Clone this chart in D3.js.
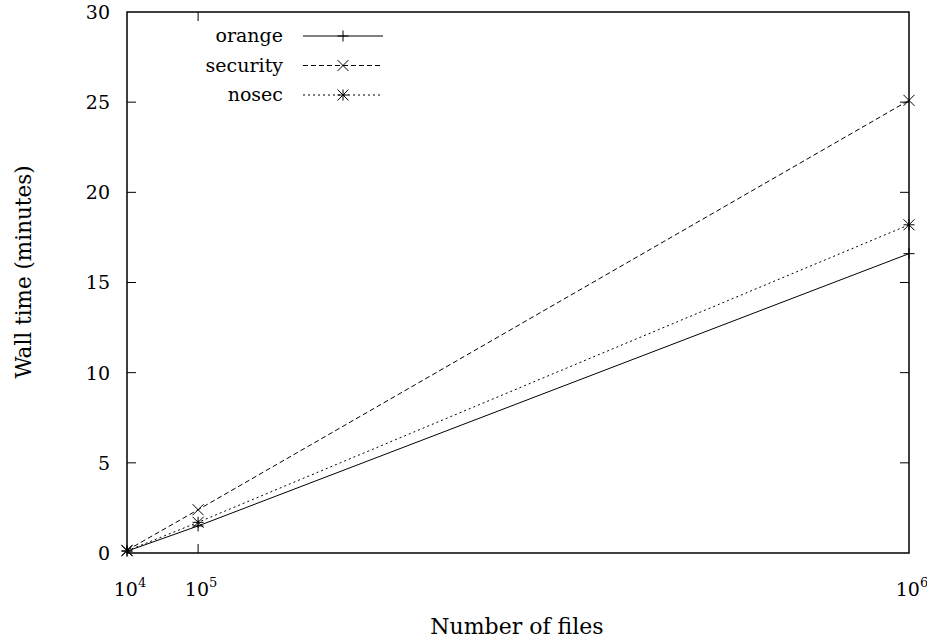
<!DOCTYPE html>
<html>
<head>
<meta charset="utf-8">
<script src="https://cdn.jsdelivr.net/npm/d3@7"></script>
<style>
body { margin: 0; background: #fff; }
</style>
</head>
<body>
<div id="chart"></div>
<script>
// data
var files = [10000, 100000, 1000000];
var xTickExp = [4, 5, 6];
var yTicks = [0, 5, 10, 15, 20, 25, 30];
var orange = [0.1, 1.5, 16.6];
var security = [0.15, 2.4, 25.1];
var nosec = [0.12, 1.7, 18.2];
var seriesNames = ["orange", "security", "nosec"];

var font = "DejaVu Serif";

function drawChart()
{
	var dim = {
		width: 927,
		height: 641,
		margin: { top: 12, bottom: 88, left: 127, right: 18 }
	};
	dim.ctrWidth = dim.width - dim.margin.left - dim.margin.right;
	dim.ctrHeight = dim.height - dim.margin.top - dim.margin.bottom;

	var series = [
		{ name: seriesNames[0], vals: orange, dash: null, mark: "plus" },
		{ name: seriesNames[1], vals: security, dash: "5,3", mark: "cross" },
		{ name: seriesNames[2], vals: nosec, dash: "2,3", mark: "star" }
	];

	var svg = d3.select("#chart")
		.append("svg")
		.attr("width", dim.width)
		.attr("height", dim.height)
		.attr("font-family", font);

	var ctr = svg.append("g")
		.attr("transform", `translate(${dim.margin.left},${dim.margin.top})`);

	var xScale = d3.scaleLinear()
		.domain([files[0], files[2]])
		.range([0, dim.ctrWidth]);
	var yScale = d3.scaleLinear()
		.domain([0, 30])
		.range([dim.ctrHeight, 0]);

	var tick = 9;

	// ticks, mirrored on all sides
	var ax = ctr.append("g").attr("stroke", "#000").attr("stroke-width", 1);
	yTicks.slice(1, -1).forEach(function(v) {
		var y = yScale(v);
		ax.append("line").attr("x1", 0).attr("x2", tick).attr("y1", y).attr("y2", y);
		ax.append("line").attr("x1", dim.ctrWidth).attr("x2", dim.ctrWidth - tick).attr("y1", y).attr("y2", y);
	});
	files.slice(1, -1).forEach(function(v) {
		var x = xScale(v);
		ax.append("line").attr("x1", x).attr("x2", x).attr("y1", dim.ctrHeight).attr("y2", dim.ctrHeight - tick);
		ax.append("line").attr("x1", x).attr("x2", x).attr("y1", 0).attr("y2", tick);
	});

	ctr.append("rect")
		.attr("width", dim.ctrWidth)
		.attr("height", dim.ctrHeight)
		.attr("fill", "none")
		.attr("stroke", "#000")
		.attr("stroke-width", 1.5);

	// tick labels
	ctr.append("g").selectAll("text")
		.data(yTicks)
		.join("text")
		.attr("x", -17)
		.attr("y", d => yScale(d))
		.attr("dy", "0.36em")
		.attr("text-anchor", "end")
		.style("font-size", "19px")
		.text(d => d);

	var xl = ctr.append("g").selectAll("text")
		.data(files)
		.join("text")
		.attr("x", d => xScale(d) + 3)
		.attr("y", dim.ctrHeight + 43)
		.attr("text-anchor", "middle")
		.style("font-size", "19px");
	xl.append("tspan").text("10");
	xl.append("tspan").attr("dy", -9).style("font-size", "13px").text((d, i) => xTickExp[i]);

	// axis titles
	svg.append("text")
		.attr("x", 517)
		.attr("y", 634)
		.attr("text-anchor", "middle")
		.style("font-size", "22px")
		.text("Number of files");
	svg.append("text")
		.attr("transform", "translate(31,272) rotate(-90)")
		.attr("text-anchor", "middle")
		.style("font-size", "21.5px")
		.text("Wall time (minutes)");

	var line = d3.line()
		.x((d, i) => xScale(files[i]))
		.y(d => yScale(d));

	function marker(g, type, x, y) {
		var s = 5.5;
		var p = [];
		if (type == "plus" || type == "star") p.push([[x - s, y], [x + s, y]], [[x, y - s], [x, y + s]]);
		if (type == "cross" || type == "star") p.push([[x - s, y - s], [x + s, y + s]], [[x - s, y + s], [x + s, y - s]]);
		p.forEach(function(seg) {
			g.append("line")
				.attr("x1", seg[0][0]).attr("y1", seg[0][1])
				.attr("x2", seg[1][0]).attr("y2", seg[1][1])
				.attr("stroke", "#000").attr("stroke-width", 1);
		});
	}

	series.forEach(function(s) {
		ctr.append("path")
			.datum(s.vals)
			.attr("d", line)
			.attr("fill", "none")
			.attr("stroke", "#000")
			.attr("stroke-width", 1)
			.attr("stroke-dasharray", s.dash);
		var g = ctr.append("g");
		s.vals.forEach(function(v, i) {
			marker(g, s.mark, xScale(files[i]), yScale(v));
		});
	});

	// legend
	var legend = svg.append("g");
	series.forEach(function(s, i) {
		var y = 36 + i * 29.5;
		legend.append("text")
			.attr("x", 283)
			.attr("y", y)
			.attr("dy", "0.32em")
			.attr("text-anchor", "end")
			.style("font-size", "19px")
			.text(s.name);
		legend.append("line")
			.attr("x1", 303).attr("x2", 383)
			.attr("y1", y).attr("y2", y)
			.attr("stroke", "#000")
			.attr("stroke-width", 1)
			.attr("stroke-dasharray", s.dash);
		marker(legend, s.mark, 343, y);
	});
}

drawChart();
</script>
</body>
</html>
